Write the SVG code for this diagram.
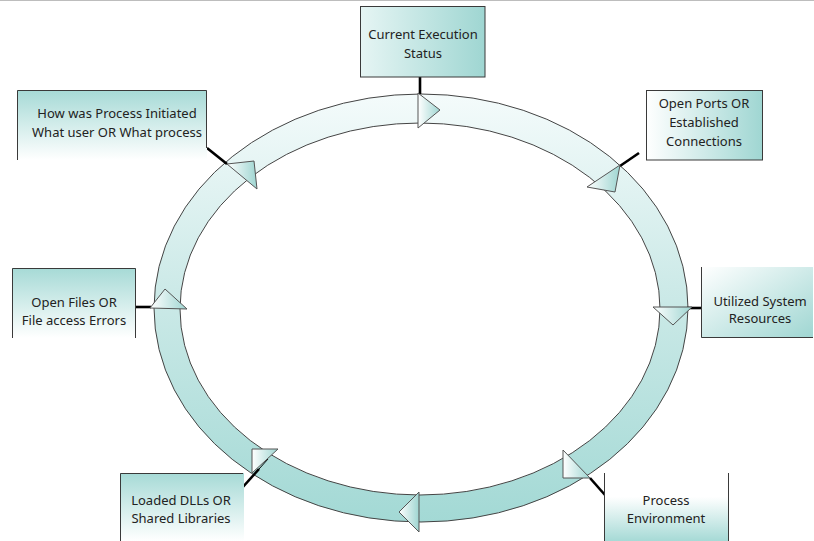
<svg xmlns="http://www.w3.org/2000/svg" width="814" height="541" viewBox="0 0 814 541">
<defs>
<style>
.lbl{font-family:"Noto Sans","Liberation Sans",sans-serif;font-size:13px;fill:#222;text-anchor:middle}
.edge{fill:none;stroke:#3a3a3a;stroke-width:1}
.tri{fill:url(#gTri);stroke:#555;stroke-width:1;stroke-linejoin:miter}
.con{stroke:#000;stroke-width:2.6;fill:none;stroke-linecap:butt}
</style>
<linearGradient id="gRing" gradientUnits="userSpaceOnUse" x1="0" y1="94" x2="0" y2="522">
<stop offset="0" stop-color="#f4fbfb"/>
<stop offset="0.45" stop-color="#cdeae8"/>
<stop offset="1" stop-color="#a3d9d5"/>
</linearGradient>
<linearGradient id="gTri" x1="0" y1="0" x2="1" y2="0">
<stop offset="0" stop-color="#ffffff"/>
<stop offset="1" stop-color="#9ed5d1"/>
</linearGradient>
<linearGradient id="gH" x1="0" y1="0" x2="1" y2="0">
<stop offset="0" stop-color="#ffffff"/>
<stop offset="1" stop-color="#9fd6d2"/>
</linearGradient>
<linearGradient id="gH1" x1="0" y1="0" x2="1" y2="0">
<stop offset="0" stop-color="#e6f5f4"/>
<stop offset="1" stop-color="#9fd6d2"/>
</linearGradient>
<linearGradient id="gVdown" x1="0" y1="0" x2="0" y2="1">
<stop offset="0" stop-color="#a6dad6"/>
<stop offset="1" stop-color="#ffffff"/>
</linearGradient>
<linearGradient id="gVup" x1="0" y1="0" x2="0" y2="1">
<stop offset="0" stop-color="#ffffff"/>
<stop offset="0.35" stop-color="#ffffff"/>
<stop offset="1" stop-color="#a6dad6"/>
</linearGradient>
<linearGradient id="gDiag" x1="0" y1="0" x2="1" y2="1">
<stop offset="0" stop-color="#ffffff"/>
<stop offset="1" stop-color="#9fd6d2"/>
</linearGradient>
</defs>
<rect x="0" y="0" width="814" height="541" fill="#ffffff"/>
<line x1="0" y1="0.5" x2="814" y2="0.5" stroke="#bdbdbd" stroke-width="1"/>

<g id="ring">
<path d="M154,308 A267,214 0 1,0 688,308 A267,214 0 1,0 154,308 Z M180,309 A240,186 0 1,0 660,309 A240,186 0 1,0 180,309 Z" fill="url(#gRing)" fill-rule="evenodd" stroke="#444" stroke-width="1"/>
</g>

<g id="connectors">
<line class="con" x1="420" y1="77" x2="420" y2="94"/>
<line class="con" x1="207" y1="148" x2="227" y2="164"/>
<line class="con" x1="639" y1="153" x2="620" y2="166"/>
<line class="con" x1="136" y1="307" x2="151" y2="307"/>
<line class="con" x1="687" y1="308" x2="701" y2="308"/>
<line class="con" x1="242" y1="488" x2="259" y2="469"/>
<line x1="259" y1="469" x2="268" y2="459" stroke="#000" stroke-width="1"/>
<line class="con" x1="590" y1="478" x2="605" y2="495"/>
</g>

<g id="arrows">
<polygon class="tri" points="418,93 440,110 418,128"/>
<polygon class="tri" points="227,164 254,161 257,189"/>
<polygon class="tri" points="620,165 587,187 615,192"/>
<polygon class="tri" points="150,308 165,289 187,309"/>
<polygon class="tri" points="653,307 692,307 673,325"/>
<polygon class="tri" points="563,450 563,478 590,478"/>
<polygon class="tri" points="419,492 399,512 419,532"/>
<polygon class="tri" points="252,449 278,449 252,473"/>
</g>

<g id="n-current">
<rect x="360" y="6" width="125" height="71" fill="url(#gH1)"/>
<rect class="edge" x="360.5" y="6.5" width="124.5" height="70.5"/>
<text class="lbl" x="423" y="39">Current Execution</text>
<text class="lbl" x="423" y="58">Status</text>
</g>

<g id="n-howwas">
<rect x="17" y="90" width="190" height="70" fill="url(#gVdown)"/>
<path class="edge" d="M17.5,160 V90.5 H206.5 V148"/>
<text class="lbl" x="117" y="118">How was Process Initiated</text>
<text class="lbl" x="117" y="137">What user OR What process</text>
</g>

<g id="n-ports">
<rect x="646" y="90" width="117" height="70" fill="url(#gH)"/>
<rect class="edge" x="646.5" y="90.5" width="116" height="69.5"/>
<text class="lbl" x="704" y="108">Open Ports OR</text>
<text class="lbl" x="704" y="127">Established</text>
<text class="lbl" x="704" y="146">Connections</text>
</g>

<g id="n-files">
<rect x="12" y="268" width="124" height="70" fill="url(#gVdown)"/>
<path class="edge" d="M12.5,338 V268.5 H135.5 V338"/>
<text class="lbl" x="74" y="307">Open Files OR</text>
<text class="lbl" x="74" y="325">File access Errors</text>
</g>

<g id="n-resources">
<rect x="701" y="267" width="112" height="71" fill="url(#gDiag)"/>
<path class="edge" d="M701.5,267 V337.5 H813"/>
<text class="lbl" x="760" y="306">Utilized System</text>
<text class="lbl" x="760" y="323">Resources</text>
</g>

<g id="n-dlls">
<rect x="120" y="473" width="124" height="68" fill="url(#gVdown)"/>
<path class="edge" d="M120.5,541 V473.5 H243"/>
<text class="lbl" x="181" y="505">Loaded DLLs OR</text>
<text class="lbl" x="181" y="523">Shared Libraries</text>
</g>

<g id="n-env">
<rect x="604" y="473" width="125" height="68" fill="url(#gVup)"/>
<path class="edge" d="M604.5,473 V541 M728.5,473 V541"/>
<text class="lbl" x="666" y="505">Process</text>
<text class="lbl" x="666" y="523">Environment</text>
</g>
</svg>
